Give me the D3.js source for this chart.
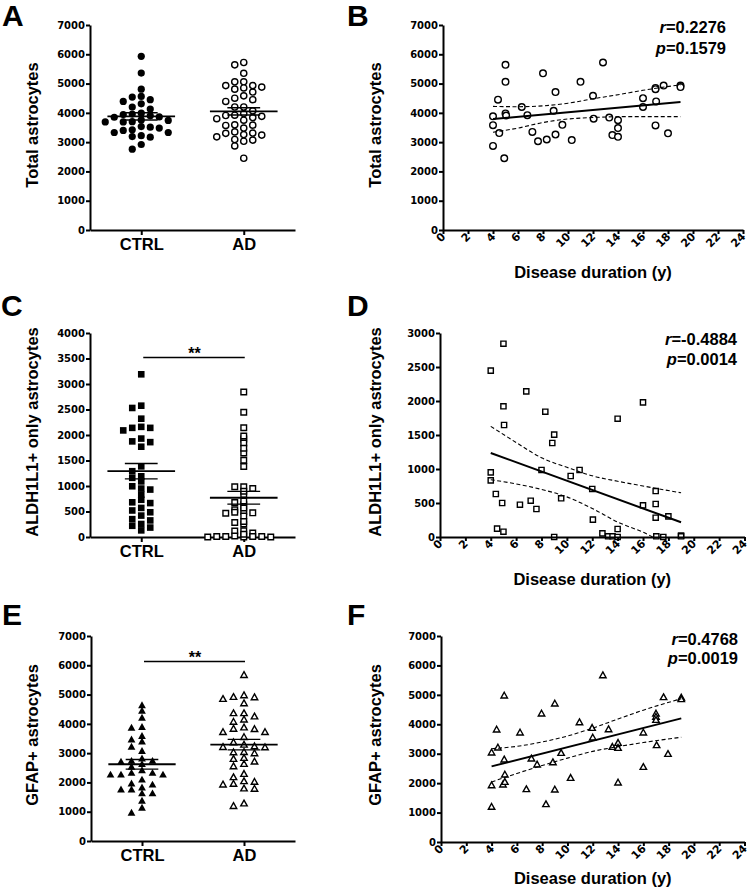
<!DOCTYPE html>
<html><head><meta charset="utf-8">
<script src="https://cdn.jsdelivr.net/npm/d3@7"></script>
<style>
body{margin:0;background:#fff;}
svg{display:block;}
</style></head><body>
<svg id="c" width="750" height="896"></svg>
<script>
// ---------------- DATA ----------------
const groups = ["CTRL", "AD"];
const ticks7000 = [0,1000,2000,3000,4000,5000,6000,7000];
const ticks4000 = [0,500,1000,1500,2000,2500,3000,3500,4000];
const ticks3000 = [0,500,1000,1500,2000,2500,3000];
const durationTicks = [0,2,4,6,8,10,12,14,16,18,20,22,24];

// Control subjects
const ctrlTotal = [5930,5360,4810,4560,4540,4450,4390,4310,4200,4130,3990,3960,3940,3900,3860,3850,3760,3740,3700,3690,3690,3530,3510,3480,3420,3400,3330,3330,3220,3190,3170,2920,2760];
const ctrlAldh = [3190,2575,2530,2320,2160,2140,2140,2090,1930,1875,1860,1770,1385,1290,1190,1160,1090,995,950,930,830,730,680,665,570,520,485,420,350,325,255,220,185,130];
const ctrlGfap = [4630,4440,4200,3890,3860,3580,3460,3390,3210,3070,2810,2730,2730,2700,2620,2530,2410,2320,2320,2260,2260,2260,2090,1960,1920,1820,1750,1750,1620,1620,1370,1130,960];

// AD subjects (disease duration in years vs counts)
const durTotal = [4,4,4,4.4,4.5,4.9,5,5,5,5.05,6.3,6.75,7.15,7.6,8,8.3,8.85,9,9,9.55,10.3,11,12,12.05,12.8,13.3,13.55,14,14,14,16,16,17,17,17.05,17,17.65,18,19,19];
const adTotal = [3880,3580,2870,4450,3310,2450,5640,5060,3980,3910,4200,3920,3350,3030,5350,3090,4070,4710,3260,3590,3070,5060,4580,3800,5720,3840,3240,3750,3480,3180,4500,4200,4850,4810,4390,3570,4930,3300,4930,4880];
const durAldh = [4,4,4,4.4,4.5,4.9,5,5,5.05,5,6.3,6.8,7.15,7.6,8,8.3,8.85,9,9,9.55,10.3,11,12,12.05,12.8,13.25,13.6,14,14,14,16,16,17,17,17,17.05,17.6,18,19,19];
const adAldh = [2446,951,833,632,123,500,2843,1922,1647,78,475,2142,534,412,985,1843,1382,1505,0,569,897,985,706,255,54,10,10,1740,118,0,1980,466,676,485,284,10,0,304,20,10];
const durGfap = [4,4,4,4.4,4.5,4.9,5,5,5.05,5.05,6.25,6.75,7.15,7.6,7.95,8.3,8.85,9,9,9.5,10.25,10.95,11.95,12,12.8,13.25,13.55,14,14,14,16,16,17,17,17,17.05,17.6,17.95,19,19];
const adGfap = [1190,1925,3035,3817,3205,1948,4972,2798,2288,2039,3715,1790,2832,2628,4360,1280,2707,4700,1778,3024,2175,4066,3874,3545,5663,3828,3228,3364,3194,2016,3715,2548,4360,4250,4145,3285,4916,2990,4904,4848];

// Group means and SEM [CTRL, AD]
const meanTotal = [3880, 4050], semTotal = [125, 125];
const meanAldh = [1290, 770], semAldh = [150, 125];
const meanGfap = [2620, 3290], semGfap = [165, 180];
const sigAldh = 3520, sigGfap = 6130, sigLabel = "**";

// Linear fits and 95% confidence bands
const fitX = [4, 19];
const fitTotal = [3790, 4370];
const fitAldh = [1235, 216];
const fitGfap = [2570, 4200];
const bandX = [4,6,8,10,12,14,16,19];
const bandTotalUp = [4220,4210,4240,4330,4480,4620,4770,4960];
const bandTotalLo = [3340,3480,3670,3790,3840,3870,3870,3870];
const bandAldhUp = [1627,1390,1165,1025,900,820,750,650];
const bandAldhLo = [843,780,700,590,420,220,70,-230];
const bandGfapUp = [3170,3250,3400,3600,3870,4180,4480,4870];
const bandGfapLo = [2040,2330,2600,2850,3080,3240,3380,3560];
const corrR = ["0.2276", "-0.4884", "0.4768"];
const corrP = ["0.1579", "0.0014", "0.0019"];

const panelLetters = ["A","B","C","D","E","F"];
const yTitles = ["Total astrocytes", "ALDH1L1+ only astrocytes", "GFAP+ astrocytes"];
const xTitle = "Disease duration (y)";

// ---------------- DRAWING ----------------
const FONT = '"Liberation Sans", Arial, Helvetica, sans-serif';
const TICKFONT = '"DejaVu Sans", sans-serif';
const svg = d3.select('#c');

const shapes = {
  circle: r => `M${-r},0a${r},${r} 0 1,0 ${2*r},0a${r},${r} 0 1,0 ${-2*r},0Z`,
  square: r => `M${-r},${-r}h${2*r}v${2*r}h${-2*r}Z`,
  triangle: r => `M0,${-r*1.15}L${r*1.08},${r*0.78}L${-r*1.08},${r*0.78}Z`
};

function axisStyle(g){
  g.select('.domain').attr('stroke','#000').attr('stroke-width',2);
  g.selectAll('.tick line').attr('stroke','#000').attr('stroke-width',2);
  g.selectAll('.tick text').attr('font-family',TICKFONT).attr('font-weight','bold')
    .attr('font-size',10).attr('fill','#000');
}

function swarm(values, y, spacing, minDy){
  const idx = values.map((v,i)=>i).sort((a,b)=>values[b]-values[a]);
  const placed = [], off = new Array(values.length).fill(0);
  for (const i of idx){
    const py = y(values[i]);
    for (let k=0;k<60;k++){
      const kk = k===0 ? 0 : (k%2 ? -Math.ceil(k/2) : Math.ceil(k/2));
      const ox = kk*spacing;
      if (!placed.some(p => Math.abs(p.x-ox) < spacing*0.5 && Math.abs(p.y-py) < minDy)){
        placed.push({x:ox, y:py}); off[i] = ox; break;
      }
    }
  }
  return off;
}

function letter(txt, x, y){
  svg.append('text').attr('x',x).attr('y',y).attr('font-family',FONT)
    .attr('font-weight','bold').attr('font-size',30).attr('fill','#000').text(txt);
}

function yTitle(txt, x, y){
  svg.append('text').attr('transform',`translate(${x},${y}) rotate(-90)`)
    .attr('text-anchor','middle').attr('font-family',FONT).attr('font-weight','bold')
    .attr('font-size',16.5).attr('fill','#000').text(txt);
}

const fmt = d3.format('d');

function stripPanel(o){
  const g = svg.append('g');
  const x = d3.scalePoint().domain(groups).range([o.left,o.right]).padding(0.5);
  const y = d3.scaleLinear().domain([0,o.yMax]).range([o.bottom,o.top]);
  const step = x.step();
  const ya = g.append('g').attr('transform',`translate(${o.left},0)`)
    .call(d3.axisLeft(y).tickValues(o.yTicks).tickFormat(fmt).tickSize(4).tickSizeOuter(0).tickPadding(1));
  axisStyle(ya);
  const xa = g.append('g').attr('transform',`translate(0,${o.bottom})`)
    .call(d3.axisBottom(x).tickSize(5).tickSizeOuter(0).tickPadding(3.5));
  axisStyle(xa);
  xa.selectAll('.tick text').attr('font-family',FONT).attr('font-size',16.5);

  o.series.forEach((vals, gi) => {
    const cx = x(groups[gi]);
    const offs = swarm(vals, y, o.spacing, o.minDy[gi]);
    const filled = gi === 0;
    g.append('g').selectAll('path').data(vals).join('path')
      .attr('transform',(d,i)=>`translate(${cx+offs[i]},${y(d)})`)
      .attr('d', shapes[o.shape](filled ? o.rf : o.ro))
      .attr('fill', filled ? '#000' : '#fff')
      .attr('stroke', '#000').attr('stroke-width', filled ? 0 : 1.4);
    const m = o.mean[gi], s = o.sem[gi];
    g.append('line').attr('x1',cx-0.33*step).attr('x2',cx+0.33*step)
      .attr('y1',y(m)).attr('y2',y(m)).attr('stroke','#000').attr('stroke-width',1.8);
    [m+s, m-s].forEach(v => g.append('line').attr('x1',cx-0.16*step).attr('x2',cx+0.16*step)
      .attr('y1',y(v)).attr('y2',y(v)).attr('stroke','#000').attr('stroke-width',1.4));
  });
  if (o.sig != null){
    g.append('line').attr('x1',x(groups[0])+2).attr('x2',x(groups[1])+1)
      .attr('y1',y(o.sig)).attr('y2',y(o.sig)).attr('stroke','#000').attr('stroke-width',1.5);
    g.append('text').attr('x',(x(groups[0])+x(groups[1]))/2+2).attr('y',y(o.sig)+2)
      .attr('text-anchor','middle').attr('font-family',FONT).attr('font-weight','bold')
      .attr('font-size',16).attr('fill','#000').text(sigLabel);
  }
}

function scatterPanel(o){
  const g = svg.append('g');
  const x = d3.scaleLinear().domain([0,24]).range([o.left,o.right]);
  const y = d3.scaleLinear().domain([0,o.yMax]).range([o.bottom,o.top]);
  const clipId = 'clip' + o.id;
  svg.append('clipPath').attr('id',clipId).append('rect')
    .attr('x',o.left).attr('y',o.top).attr('width',o.right-o.left).attr('height',o.bottom-o.top);

  const ya = g.append('g').attr('transform',`translate(${o.left},0)`)
    .call(d3.axisLeft(y).tickValues(o.yTicks).tickFormat(fmt).tickSize(4).tickSizeOuter(0).tickPadding(1));
  axisStyle(ya);

  // points
  g.append('g').selectAll('path').data(o.xs).join('path')
    .attr('transform',(d,i)=>`translate(${x(d)},${y(o.ys[i])})`)
    .attr('d', shapes[o.shape](o.r))
    .attr('fill','#fff').attr('stroke','#000').attr('stroke-width',1.4);

  // bands
  const bandLine = d3.line().x((d,i)=>x(bandX[i])).y(d=>y(d)).curve(d3.curveMonotoneX);
  [o.up, o.lo].forEach(arr => g.append('path').attr('clip-path',`url(#${clipId})`)
    .attr('d', bandLine(arr)).attr('fill','none').attr('stroke','#000')
    .attr('stroke-width',1.1).attr('stroke-dasharray','4,2.5'));
  // fit
  g.append('line').attr('x1',x(fitX[0])).attr('x2',x(fitX[1]))
    .attr('y1',y(o.fit[0])).attr('y2',y(o.fit[1])).attr('stroke','#000').attr('stroke-width',2);

  const xa = g.append('g').attr('transform',`translate(0,${o.bottom})`)
    .call(d3.axisBottom(x).tickValues(durationTicks).tickFormat(fmt).tickSize(4).tickSizeOuter(0));
  axisStyle(xa);
  xa.selectAll('.tick text').attr('x',0).attr('y',0).attr('dy','0.35em')
    .attr('font-size',11)
    .attr('text-anchor','end').attr('transform','translate(0,4.5) rotate(-45)');

  g.append('text').attr('x',(o.left+o.right)/2).attr('y',o.titleBase)
    .attr('text-anchor','middle').attr('font-family',FONT).attr('font-weight','bold')
    .attr('font-size',16.5).attr('fill','#000').text(xTitle);

  [['r', o.rVal, o.rBase], ['p', o.pVal, o.pBase]].forEach(([sym, val, base]) => {
    const t = g.append('text').attr('x',o.textRight).attr('y',base).attr('text-anchor','end')
      .attr('font-family',FONT).attr('font-weight','bold').attr('font-size',16.5).attr('fill','#000');
    t.append('tspan').attr('font-style','italic').text(sym);
    t.append('tspan').text('=' + val);
  });
}

// Panel A
stripPanel({left:90, right:295, top:25, bottom:230, yMax:7000, yTicks:ticks7000,
  series:[ctrlTotal, adTotal], mean:meanTotal, sem:semTotal, shape:'circle', rf:3.6, ro:3.1,
  spacing:9, minDy:[6.5,6], sig:null});
// Panel C
stripPanel({left:90, right:295, top:333, bottom:537, yMax:4000, yTicks:ticks4000,
  series:[ctrlAldh, adAldh], mean:meanAldh, sem:semAldh, shape:'square', rf:3.3, ro:2.8,
  spacing:9, minDy:[5,2.4], sig:sigAldh});
// Panel E
stripPanel({left:91, right:295, top:636, bottom:841, yMax:7000, yTicks:ticks7000,
  series:[ctrlGfap, adGfap], mean:meanGfap, sem:semGfap, shape:'triangle', rf:3.6, ro:3.0,
  spacing:10.5, minDy:[5.5,5.5], sig:sigGfap});

// Panel B
scatterPanel({id:'B', left:443, right:743, top:25, bottom:230, yMax:7000, yTicks:ticks7000,
  xs:durTotal, ys:adTotal, shape:'circle', r:3.3, fit:fitTotal, up:bandTotalUp, lo:bandTotalLo,
  titleBase:278, rVal:corrR[0], pVal:corrP[0], textRight:726, rBase:33, pBase:53.5});
// Panel D
scatterPanel({id:'D', left:440, right:744.5, top:333, bottom:537, yMax:3000, yTicks:ticks3000,
  xs:durAldh, ys:adAldh, shape:'square', r:2.6, fit:fitAldh, up:bandAldhUp, lo:bandAldhLo,
  titleBase:585, rVal:corrR[1], pVal:corrP[1], textRight:737, rBase:345, pBase:365});
// Panel F
scatterPanel({id:'F', left:441, right:744.5, top:636, bottom:842, yMax:7000, yTicks:ticks7000,
  xs:durGfap, ys:adGfap, shape:'triangle', r:3.0, fit:fitGfap, up:bandGfapUp, lo:bandGfapLo,
  titleBase:883.5, rVal:corrR[2], pVal:corrP[2], textRight:738, rBase:645, pBase:664});

// Titles and letters
yTitle(yTitles[0], 38, 125);
yTitle(yTitles[0], 380.5, 125);
yTitle(yTitles[1], 38, 432);
yTitle(yTitles[1], 380.5, 432);
yTitle(yTitles[2], 38, 735);
yTitle(yTitles[2], 380.5, 735);

letter(panelLetters[0], 2, 26);
letter(panelLetters[1], 347, 26);
letter(panelLetters[2], 1, 316);
letter(panelLetters[3], 347, 316);
letter(panelLetters[4], 2, 625);
letter(panelLetters[5], 347, 625);
</script>
</body></html>
